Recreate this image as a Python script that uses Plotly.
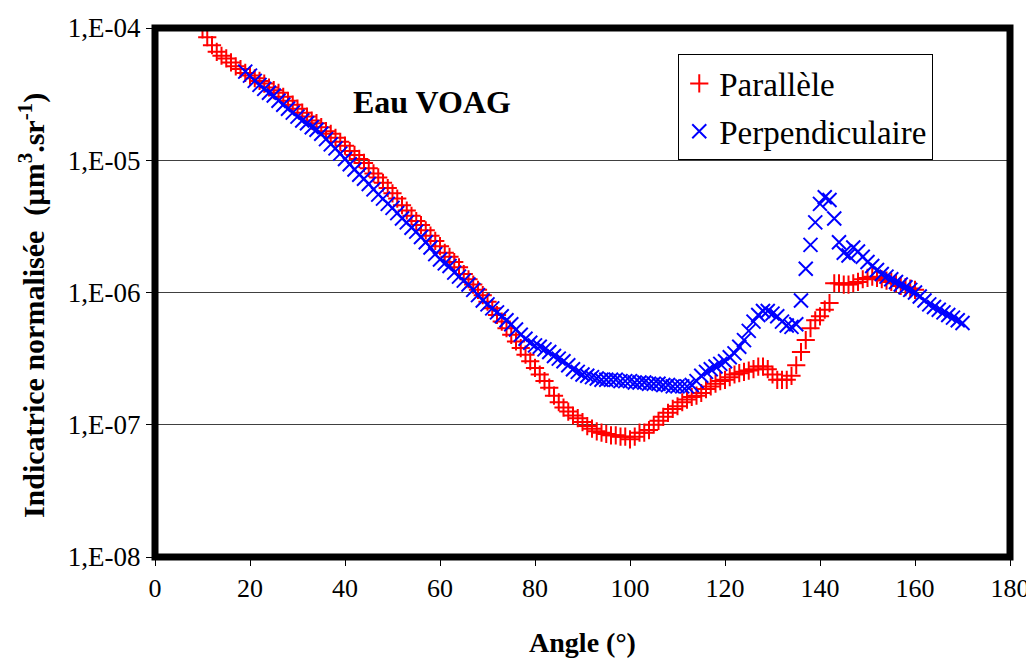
import plotly.graph_objects as go

# angles (degrees) and log10 of the normalised indicatrix
angles_par = list(range(10, 161))
lg_par = [
    -4.01, -4.07, -4.13, -4.18, -4.21, -4.23, -4.26, -4.29, -4.31, -4.34,
    -4.36, -4.38, -4.40, -4.42, -4.45, -4.47, -4.49, -4.52, -4.55, -4.58,
    -4.61, -4.64, -4.67, -4.70, -4.72, -4.75, -4.78, -4.80, -4.83, -4.86,
    -4.89, -4.93, -4.96, -4.99, -5.02, -5.06, -5.10, -5.13, -5.17, -5.21,
    -5.25, -5.29, -5.34, -5.38, -5.42, -5.46, -5.49, -5.53, -5.57, -5.61,
    -5.65, -5.70, -5.73, -5.77, -5.81, -5.86, -5.90, -5.94, -5.98, -6.02,
    -6.07, -6.12, -6.17, -6.22, -6.27, -6.32, -6.37, -6.42, -6.47, -6.52,
    -6.57, -6.62, -6.67, -6.72, -6.78, -6.83, -6.87, -6.90, -6.93, -6.95,
    -6.98, -7.01, -7.03, -7.05, -7.06, -7.07, -7.08, -7.08, -7.09, -7.09,
    -7.11, -7.09, -7.06, -7.06, -7.04, -7.00, -6.97, -6.94, -6.91, -6.88,
    -6.86, -6.83, -6.81, -6.79, -6.78, -6.76, -6.73, -6.71, -6.69, -6.67,
    -6.66, -6.64, -6.62, -6.61, -6.60, -6.59, -6.58, -6.56, -6.56, -6.58,
    -6.62, -6.66, -6.66, -6.66, -6.63, -6.55, -6.45, -6.36, -6.27, -6.21,
    -6.18, -6.13, -6.08, -5.93, -5.93, -5.94, -5.94, -5.93, -5.92, -5.90,
    -5.89, -5.88, -5.89, -5.90, -5.91, -5.92, -5.93, -5.95, -5.96, -5.97,
    -5.98,
]

angles_perp = list(range(19, 171))
lg_perp = [
    -4.33,
    -4.36, -4.40, -4.43, -4.46, -4.49, -4.51, -4.55, -4.58, -4.61, -4.64,
    -4.67, -4.70, -4.72, -4.75, -4.77, -4.80, -4.84, -4.88, -4.91, -4.95,
    -4.99, -5.03, -5.07, -5.11, -5.14, -5.18, -5.22, -5.26, -5.29, -5.33,
    -5.36, -5.40, -5.44, -5.47, -5.51, -5.54, -5.58, -5.62, -5.66, -5.71,
    -5.75, -5.78, -5.80, -5.85, -5.88, -5.91, -5.94, -5.98, -6.02, -6.06,
    -6.09, -6.12, -6.15, -6.18, -6.21, -6.24, -6.28, -6.32, -6.35, -6.38,
    -6.40, -6.41, -6.43, -6.45, -6.48, -6.50, -6.52, -6.55, -6.58, -6.60,
    -6.62, -6.63, -6.64, -6.65, -6.66, -6.66, -6.66, -6.66, -6.67, -6.67,
    -6.67, -6.68, -6.68, -6.68, -6.69, -6.69, -6.69, -6.70, -6.70, -6.71,
    -6.71, -6.71, -6.71, -6.70, -6.67, -6.63, -6.60, -6.58, -6.56, -6.54,
    -6.52, -6.49, -6.46, -6.41, -6.36, -6.29, -6.22, -6.17, -6.14, -6.14,
    -6.16, -6.18, -6.22, -6.25, -6.26, -6.24, -6.06, -5.82, -5.64, -5.47,
    -5.33, -5.28, -5.30, -5.44, -5.62, -5.70, -5.72, -5.66, -5.69, -5.73,
    -5.77, -5.80, -5.83, -5.86, -5.88, -5.90, -5.92, -5.94, -5.96, -5.98,
    -6.00, -6.03, -6.06, -6.09, -6.11, -6.13, -6.15, -6.17, -6.19, -6.21,
    -6.23,
]

y_ticks = [1e-4, 1e-5, 1e-6, 1e-7, 1e-8]
y_ticktext = ["1,E-04", "1,E-05", "1,E-06", "1,E-07", "1,E-08"]

font = "Liberation Serif"

trace_par = go.Scatter(
    x=angles_par, y=[10 ** v for v in lg_par], mode="markers", name="Parallèle",
    legendgroup="par",
    marker=dict(symbol="cross-thin", size=13, color="red",
                line=dict(color="red", width=2)),
)
trace_perp = go.Scatter(
    x=angles_perp, y=[10 ** v for v in lg_perp], mode="markers", name="Perpendiculaire",
    legendgroup="perp",
    marker=dict(symbol="x-thin", size=14, color="blue",
                line=dict(color="blue", width=2)),
)

# the page body adds 8 px on the top/left, so the figure is 8 px smaller
layout = go.Layout(
    width=1026, height=655,
    margin=dict(l=147, r=24, t=20, b=106),
    paper_bgcolor="white", plot_bgcolor="white",
    font=dict(family=font, color="black", size=26),
    showlegend=True,
    legend=dict(
        x=0.612, y=0.95, xanchor="left", yanchor="top",
        bgcolor="white", bordercolor="black", borderwidth=1,
        font=dict(size=33), tracegroupgap=2, traceorder="grouped",
    ),
    xaxis=dict(
        range=[0, 180], tickvals=list(range(0, 181, 20)),
        ticks="outside", ticklen=8, tickcolor="black",
        showgrid=False, zeroline=False, showline=False, automargin=False,
        title=dict(text="<b>Angle (°)</b>", font=dict(size=28), standoff=30),
    ),
    yaxis=dict(
        type="log", range=[-8, -4], tickvals=y_ticks, ticktext=y_ticktext,
        tickfont=dict(size=27),
        ticks="outside", ticklen=8, tickcolor="black",
        showgrid=True, gridcolor="#404040", gridwidth=1,
        zeroline=False, showline=False, automargin=False,
    ),
    shapes=[dict(type="rect", xref="paper", yref="paper", x0=0, x1=1, y0=0, y1=1,
                 line=dict(color="black", width=7), layer="above")],
    annotations=[
        dict(text="<b>Eau VOAG</b>", xref="paper", yref="paper",
             x=0.324, y=0.86, xanchor="center", yanchor="middle",
             showarrow=False, font=dict(size=32)),
        dict(text="<b>Indicatrice normalisée  (µm<sup>3</sup>.sr<sup>-1</sup>)</b>",
             xref="paper", yref="paper", x=-0.144, y=0.476, textangle=-90,
             xanchor="center", yanchor="middle", showarrow=False,
             font=dict(size=30)),
    ],
)

fig = go.Figure(data=[trace_par, trace_perp], layout=layout)
fig.write_html("out.html")
